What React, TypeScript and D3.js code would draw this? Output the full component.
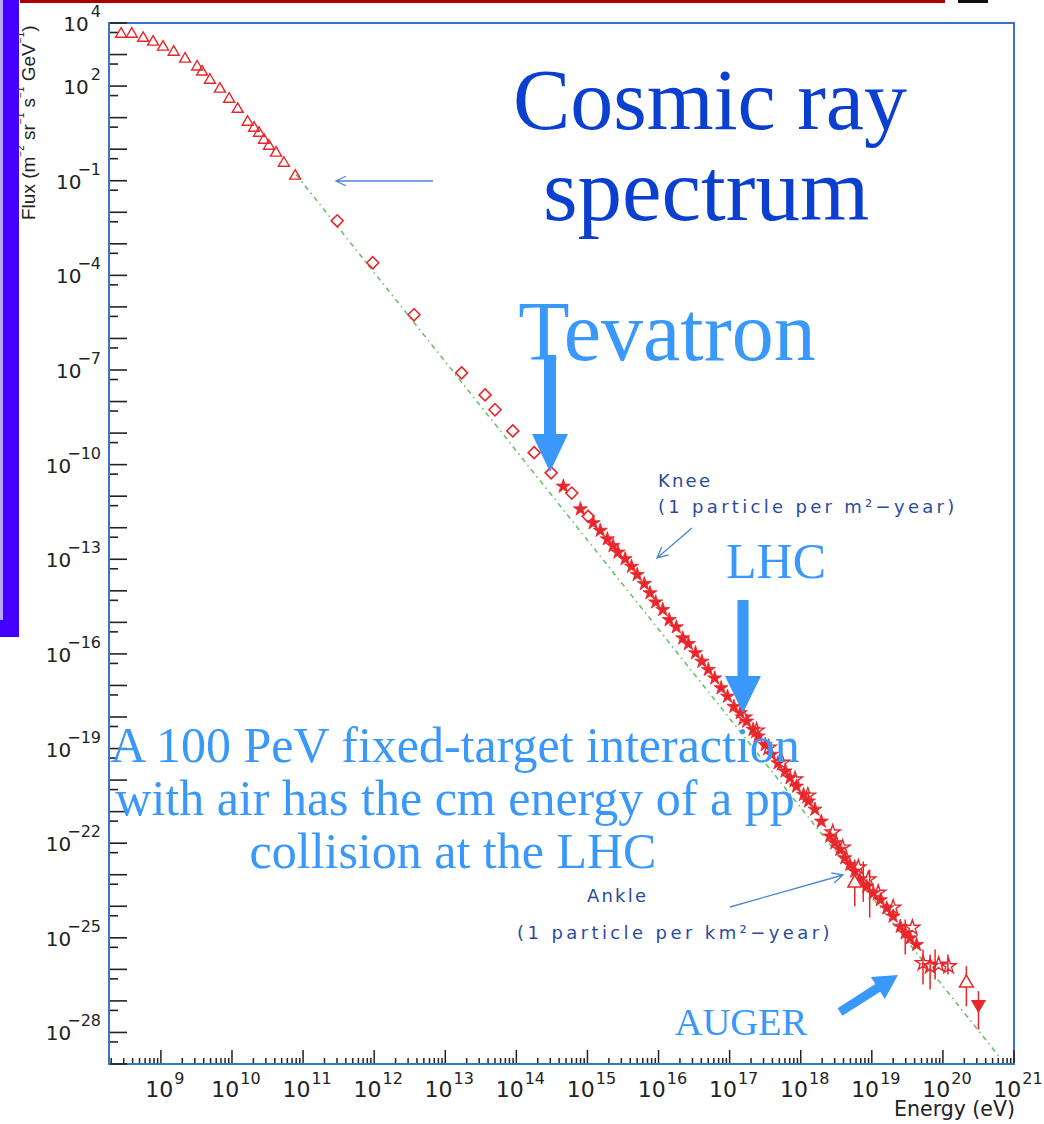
import React from 'react';
import * as d3 from 'd3';

// ---------- data (log10 energy [eV], log10 flux) ----------
const triE = [8.44, 8.59, 8.75, 8.89, 9.03, 9.18, 9.34, 9.51, 9.58, 9.69, 9.83, 9.96, 10.08, 10.22, 10.31, 10.38, 10.45, 10.52, 10.62, 10.73, 10.89];
const triF = [3.65, 3.65, 3.52, 3.40, 3.24, 3.08, 2.86, 2.61, 2.45, 2.19, 1.91, 1.59, 1.27, 0.86, 0.67, 0.51, 0.29, 0.10, -0.12, -0.44, -0.85];

const diaE = [11.48, 11.98, 12.56, 13.23, 13.56, 13.70, 13.95, 14.25, 14.49, 14.78, 15.01];
const diaF = [-2.27, -3.60, -5.25, -7.09, -7.79, -8.26, -8.93, -9.62, -10.26, -10.90, -11.64];

const starE = [14.66, 14.90, 15.08, 15.18, 15.28, 15.36, 15.43, 15.53, 15.62, 15.70, 15.80, 15.88, 15.96, 16.06, 16.15, 16.25, 16.34, 16.42, 16.52, 16.61, 16.70, 16.79, 16.88, 16.97, 17.06, 17.15, 17.24, 17.33, 17.40, 17.50, 17.59, 17.68, 17.78, 17.85, 17.94, 18.04, 18.11, 18.20, 18.29, 18.41, 18.48, 18.55, 18.62, 18.69, 18.76, 18.83, 18.93, 19.02, 19.12, 19.21, 19.30, 19.40, 19.47, 19.54, 19.63];
const starF = [-10.69, -11.41, -11.85, -12.09, -12.36, -12.57, -12.78, -12.99, -13.23, -13.49, -13.78, -14.07, -14.36, -14.60, -14.92, -15.15, -15.50, -15.68, -15.97, -16.24, -16.50, -16.77, -17.08, -17.35, -17.67, -17.87, -18.14, -18.40, -18.61, -18.88, -19.19, -19.46, -19.72, -19.93, -20.20, -20.46, -20.67, -20.93, -21.31, -21.78, -21.99, -22.20, -22.47, -22.68, -22.89, -23.15, -23.37, -23.58, -23.80, -24.06, -24.32, -24.64, -24.85, -25.01, -25.22];

const openStarE = [17.20, 17.38, 17.55, 17.74, 17.92, 18.10, 18.45, 18.59, 18.81, 18.95, 19.09, 19.30, 19.57, 19.72, 19.82, 19.94, 20.08];
const openStarF = [-18.02, -18.43, -18.97, -19.45, -19.98, -20.49, -21.66, -22.14, -22.77, -23.15, -23.57, -24.04, -24.68, -25.80, -25.90, -25.85, -25.90];

const hiTriE = [18.76, 20.33];
const hiTriF = [-23.26, -26.43];

const limitE = [20.50];
const limitF = [-27.11];

const errE = [18.76, 18.88, 18.97, 19.47, 19.72, 19.82, 19.89, 20.07, 20.33, 20.50];
const errLo = [-24.00, -23.86, -24.36, -25.53, -26.48, -26.64, -26.32, -26.16, -27.17, -27.91];
const errHi = [-22.52, -22.58, -22.84, -24.42, -25.37, -25.53, -25.37, -25.53, -25.90, -26.69];

const fitE = [10.9, 20.8];
const fitF = [-0.80, -28.79];

const yLabelExp = [4, 2, -1, -4, -7, -10, -13, -16, -19, -22, -25, -28];
const xLabelExp = [9, 10, 11, 12, 13, 14, 15, 16, 17, 18, 19, 20, 21];

// ---------- layout ----------
const X0 = 109, X1 = 1014, Y0 = 23, Y1 = 1064;
const RED = '#e8262b';
const FRAME = '#3b73c9';
const LIGHT = '#3a98fb';
const DARKTXT = '#2a4b9c';
const THIN = '#4c85d4';

const p10 = (v: number) => Math.pow(10, v);

function thickArrow(x1: number, y1: number, x2: number, y2: number, w: number, hw: number, hl: number) {
  const dx = x2 - x1, dy = y2 - y1;
  const L = Math.hypot(dx, dy);
  const ux = dx / L, uy = dy / L;
  const nx = -uy, ny = ux;
  const bx = x2 - ux * hl, by = y2 - uy * hl;
  const pts = [
    [x1 + nx * w / 2, y1 + ny * w / 2],
    [bx + nx * w / 2, by + ny * w / 2],
    [bx + nx * hw / 2, by + ny * hw / 2],
    [x2, y2],
    [bx - nx * hw / 2, by - ny * hw / 2],
    [bx - nx * w / 2, by - ny * w / 2],
    [x1 - nx * w / 2, y1 - ny * w / 2],
  ];
  return 'M' + pts.map(p => p[0].toFixed(1) + ',' + p[1].toFixed(1)).join('L') + 'Z';
}

function thinArrow(x1: number, y1: number, x2: number, y2: number, hl: number) {
  const a = Math.atan2(y2 - y1, x2 - x1);
  const s = 0.45;
  const h1x = x2 - hl * Math.cos(a - s), h1y = y2 - hl * Math.sin(a - s);
  const h2x = x2 - hl * Math.cos(a + s), h2y = y2 - hl * Math.sin(a + s);
  return `M${x1},${y1}L${x2},${y2}M${h1x},${h1y}L${x2},${y2}L${h2x},${h2y}`;
}

export default function App() {
  const x = d3.scaleLog().domain([p10(8.27), 1e21]).range([X0, X1]);
  const y = d3.scaleLog().domain([1e-29, 1e4]).range([Y1, Y0]);

  const triPath = d3.symbol(d3.symbolTriangle, 52)() as string;
  const starPath = d3.symbol(d3.symbolStar, 62)() as string;
  const openStarPath = d3.symbol(d3.symbolStar, 70)() as string;
  const r = 6;
  const diamondPath = `M0,${-r}L${r},0L0,${r}L${-r},0Z`;

  const line = d3.line<number>().x((_, i) => x(p10(fitE[i]))).y((_, i) => y(p10(fitF[i])));

  // ticks
  const xTicks: { v: number; major: boolean }[] = [];
  for (let n = 8; n <= 21; n++) {
    for (let k = 1; k <= 9; k++) {
      const v = k * p10(n);
      if (v >= p10(8.27) && v <= 1e21 * 1.0001) xTicks.push({ v, major: k === 1 });
    }
  }
  const yTicks: { v: number; major: boolean }[] = [];
  for (let n = -29; n <= 4; n++) {
    yTicks.push({ v: p10(n), major: true });
    if (n > -29) yTicks.push({ v: 0.5 * p10(n), major: false });
  }

  return (
    <svg width={1044} height={1124} style={{ display: 'block', position: 'absolute', left: 0, top: 0 }}>
      <rect x={0} y={0} width={1044} height={1124} fill="#ffffff" />

      {/* y axis title (partly hidden by bar) */}
      <text transform="translate(35,220) rotate(-90)" fontFamily="Liberation Sans" fontSize={19} fill="#222">
        <tspan>Flux (m</tspan>
        <tspan dy={-11} fontSize={10}>−2</tspan>
        <tspan dy={11}> sr</tspan>
        <tspan dy={-11} fontSize={10}>−1</tspan>
        <tspan dy={11}> s</tspan>
        <tspan dy={-11} fontSize={10}>−1</tspan>
        <tspan dy={11}> GeV</tspan>
        <tspan dy={-11} fontSize={10}>−1</tspan>
        <tspan dy={11}>)</tspan>
      </text>

      {/* slide decorations */}
      <rect x={0} y={0} width={19} height={637} fill="#4400ff" />
      <rect x={0} y={0} width={3} height={620} fill="#b7a6ff" />
      <rect x={20} y={0} width={925} height={3} fill="#a80000" />
      <rect x={958} y={0} width={30} height={3} fill="#111" />

      {/* frame */}
      <rect x={X0} y={Y0} width={X1 - X0} height={Y1 - Y0} fill="none" stroke={FRAME} strokeWidth={2} />

      {/* y ticks */}
      {yTicks.map((t, i) => (
        <line key={'yt' + i} x1={X0 + 1} x2={X0 + (t.major ? 18 : 9)} y1={y(t.v)} y2={y(t.v)} stroke="#222" strokeWidth={1.6} />
      ))}
      {/* x ticks */}
      {xTicks.map((t, i) => (
        <line key={'xt' + i} x1={x(t.v)} x2={x(t.v)} y1={Y1 - 1} y2={Y1 - (t.major ? 14 : 6)} stroke="#222" strokeWidth={1.5} />
      ))}

      {/* y labels */}
      {yLabelExp.map(n => (
        <text key={'yl' + n} x={101} y={y(p10(n)) + 8} textAnchor="end" fontFamily="DejaVu Sans" fontSize={20} fill="#222">
          <tspan>10</tspan>
          <tspan dy={-14} dx={n < 0 ? -4 : 2} fontSize={16}>{n < 0 ? '−' + Math.abs(n) : String(n)}</tspan>
        </text>
      ))}
      {/* x labels */}
      {xLabelExp.map(n => (
        <text key={'xl' + n} x={x(p10(n)) + 4} y={1097} textAnchor="middle" fontFamily="DejaVu Sans" fontSize={22} fill="#222">
          <tspan>10</tspan>
          <tspan dy={-13} dx={1} fontSize={16}>{String(n)}</tspan>
        </text>
      ))}
      <text x={1015} y={1116} textAnchor="end" fontFamily="DejaVu Sans" fontSize={20.5} fill="#222">Energy (eV)</text>

      {/* fit line */}
      <path d={line(fitE) as string} fill="none" stroke="#6cc06a" strokeWidth={1.6} strokeDasharray="5 4 1.5 4" />

      {/* error bars */}
      {errE.map((e, i) => (
        <line key={'er' + i} x1={x(p10(e))} x2={x(p10(e))} y1={y(p10(errLo[i]))} y2={y(p10(errHi[i]))} stroke={RED} strokeWidth={1.5} />
      ))}

      {/* markers */}
      {triE.map((e, i) => (
        <path key={'tr' + i} d={triPath} transform={`translate(${x(p10(e))},${y(p10(triF[i]))})`} fill="none" stroke={RED} strokeWidth={1.4} />
      ))}
      {diaE.map((e, i) => (
        <path key={'di' + i} d={diamondPath} transform={`translate(${x(p10(e))},${y(p10(diaF[i]))})`} fill="#fff" stroke={RED} strokeWidth={1.6} />
      ))}
      {starE.map((e, i) => (
        <path key={'st' + i} d={starPath} transform={`translate(${x(p10(e))},${y(p10(starF[i]))})`} fill={RED} stroke={RED} strokeWidth={0.8} />
      ))}
      {openStarE.map((e, i) => (
        <path key={'os' + i} d={openStarPath} transform={`translate(${x(p10(e))},${y(p10(openStarF[i]))})`} fill="none" stroke={RED} strokeWidth={1.4} />
      ))}
      {hiTriE.map((e, i) => (
        <path key={'ht' + i} d={triPath} transform={`translate(${x(p10(e))},${y(p10(hiTriF[i]))}) scale(1.25)`} fill="#fff" stroke={RED} strokeWidth={1.2} />
      ))}
      {limitE.map((e, i) => (
        <path key={'lm' + i} d={triPath} transform={`translate(${x(p10(e))},${y(p10(limitF[i]))}) rotate(180) scale(1.2)`} fill={RED} stroke={RED} strokeWidth={1} />
      ))}

      {/* thin annotation arrows */}
      <path d={thinArrow(433, 181, 336, 181, 11)} fill="none" stroke={THIN} strokeWidth={1.3} />
      <path d={thinArrow(692, 528, 657, 558, 12)} fill="none" stroke={THIN} strokeWidth={1.3} />
      <path d={thinArrow(730, 907, 843, 875, 12)} fill="none" stroke={THIN} strokeWidth={1.3} />

      {/* knee / ankle text */}
      <text fontFamily="DejaVu Sans" fontSize={18} fill={DARKTXT}>
        <tspan x={658} y={487} letterSpacing={2.2}>Knee</tspan>
      </text>
      <text fontFamily="DejaVu Sans" fontSize={18} fill={DARKTXT} letterSpacing={3.3}>
        <tspan x={658} y={513}>(1 particle per m²−year)</tspan>
      </text>
      <text fontFamily="DejaVu Sans" fontSize={18} fill={DARKTXT}>
        <tspan x={587} y={902} letterSpacing={2.2}>Ankle</tspan>
      </text>
      <text fontFamily="DejaVu Sans" fontSize={18} fill={DARKTXT} letterSpacing={3.4}>
        <tspan x={517} y={939}>(1 particle per km²−year)</tspan>
      </text>

      {/* thick arrows */}
      <path d={thickArrow(550, 355, 550, 472, 12, 36, 38)} fill={LIGHT} />
      <path d={thickArrow(743, 600, 743, 713, 11, 36, 37)} fill={LIGHT} />
      <path d={thickArrow(840, 1012, 898, 975, 9, 26, 24)} fill={LIGHT} />

      {/* big texts */}
      <text x={710} y={129} fontFamily="Liberation Serif" fontSize={86} fill="#0b3fd0" textAnchor="middle">Cosmic ray</text>
      <text x={706} y={220} fontFamily="Liberation Serif" fontSize={89} fill="#0b3fd0" textAnchor="middle">spectrum</text>
      <text x={667} y={360} fontFamily="Liberation Serif" fontSize={84} fill={LIGHT} textAnchor="middle">Tevatron</text>
      <text x={776} y={578} fontFamily="Liberation Serif" fontSize={50} fill={LIGHT} textAnchor="middle">LHC</text>
      <text fontFamily="Liberation Serif" fontSize={50} fill={LIGHT} textAnchor="middle">
        <tspan x={455} y={762}>A 100 PeV fixed-target interaction</tspan>
        <tspan x={455} y={815}>with air has the cm energy of a pp</tspan>
        <tspan x={453} y={868}>collision at the LHC</tspan>
      </text>
      <text x={741} y={1035} fontFamily="Liberation Serif" fontSize={38.5} fill={LIGHT} textAnchor="middle">AUGER</text>
    </svg>
  );
}
